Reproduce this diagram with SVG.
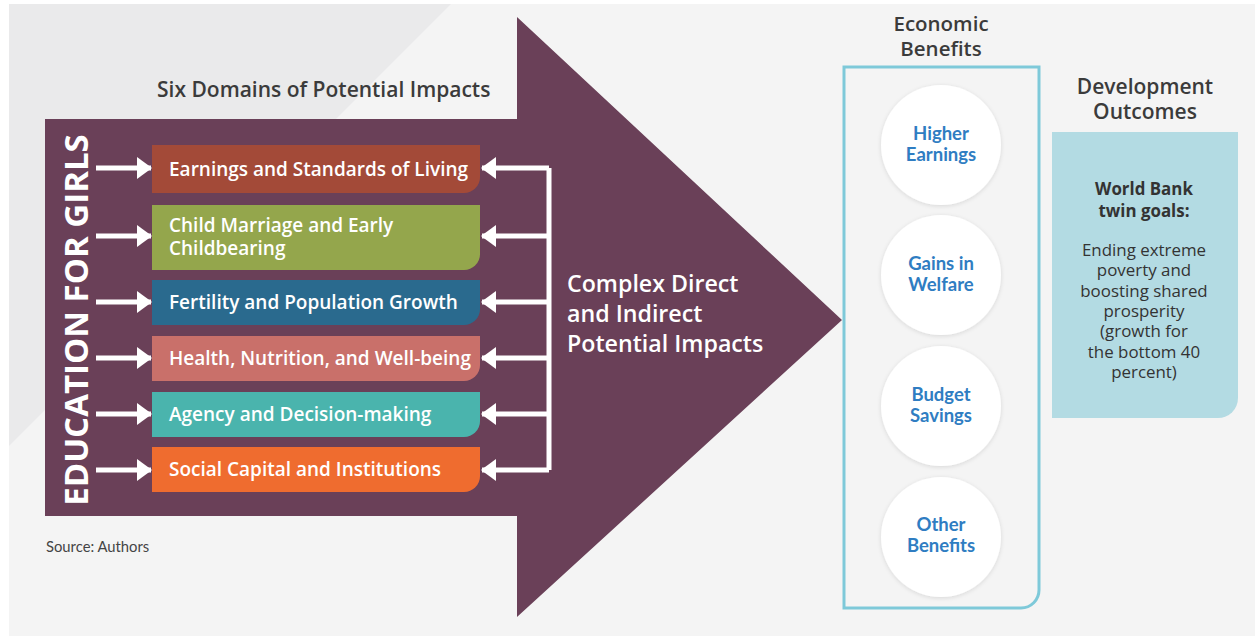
<svg xmlns="http://www.w3.org/2000/svg" width="1255" height="639" viewBox="0 0 1255 639">
<style>
.title{font-family:"Open Sans","Liberation Sans",sans-serif;font-weight:600;fill:#3b3b3b}
.box{font-family:"Open Sans","Liberation Sans",sans-serif;font-weight:600;font-size:19px;fill:#ffffff}
.circ{font-family:Lato,"Liberation Sans",sans-serif;font-weight:700;font-size:18.5px;fill:#2f7dc2;text-anchor:middle}
.dev{font-family:"Open Sans","Liberation Sans",sans-serif;font-size:16.9px;fill:#333333;text-anchor:middle}
.conn{stroke:#ffffff;stroke-width:5;fill:none;stroke-linejoin:round}
</style>
<defs>
<marker id="ah" viewBox="0 0 15 22" refX="14" refY="11" markerWidth="15" markerHeight="22" markerUnits="userSpaceOnUse" orient="auto">
<path d="M0 0 L15 11 L0 22 Z" fill="#ffffff"/>
</marker>
<filter id="sh" x="-20%" y="-20%" width="140%" height="140%">
<feDropShadow dx="0" dy="1" stdDeviation="2" flood-color="#000000" flood-opacity="0.12"/>
</filter>
</defs>
<rect x="0" y="0" width="1255" height="639" fill="#ffffff"/>
<rect x="9" y="4" width="1246" height="632" fill="#f4f4f4"/>
<path d="M9 4 H451 L9 446 Z" fill="#eaeaeb"/>

<g id="big-arrow">
<path d="M45 119 H517 V17 L842 320 L517 617 V516 H45 Z" fill="#6a4058"/>
<text transform="translate(75,320) rotate(-90)" text-anchor="middle" dominant-baseline="central" font-family="Open Sans, Liberation Sans, sans-serif" font-weight="700" font-size="33" fill="#ffffff">EDUCATION FOR GIRLS</text>
<text x="567" y="292" font-family="Open Sans, Liberation Sans, sans-serif" font-weight="600" font-size="23.2" fill="#ffffff">Complex Direct</text>
<text x="567" y="322" font-family="Open Sans, Liberation Sans, sans-serif" font-weight="600" font-size="23.2" fill="#ffffff">and Indirect</text>
<text x="567" y="352" font-family="Open Sans, Liberation Sans, sans-serif" font-weight="600" font-size="23.2" fill="#ffffff">Potential Impacts</text>
</g>

<text class="title" x="157" y="97" font-size="21" font-weight="500">Six Domains of Potential Impacts</text>

<g id="domain-earnings">
<path d="M152 145 H480 V177 A16 16 0 0 1 464 193 H152 Z" fill="#a34a38"/>
<text class="box" x="169" y="176">Earnings and Standards of Living</text>
</g>
<g id="domain-child-marriage">
<path d="M152 205 H480 V254 A16 16 0 0 1 464 270 H152 Z" fill="#94a64c"/>
<text class="box" x="169" y="232">Child Marriage and Early</text>
<text class="box" x="169" y="255">Childbearing</text>
</g>
<g id="domain-fertility">
<path d="M152 280 H480 V309 A16 16 0 0 1 464 325 H152 Z" fill="#2a6a8e"/>
<text class="box" x="169" y="309">Fertility and Population Growth</text>
</g>
<g id="domain-health">
<path d="M152 336 H480 V365 A16 16 0 0 1 464 381 H152 Z" fill="#c9706a"/>
<text class="box" x="169" y="365">Health, Nutrition, and Well-being</text>
</g>
<g id="domain-agency">
<path d="M152 392 H480 V421 A16 16 0 0 1 464 437 H152 Z" fill="#4ab4ad"/>
<text class="box" x="169" y="421">Agency and Decision-making</text>
</g>
<g id="domain-social">
<path d="M152 447 H480 V476 A16 16 0 0 1 464 492 H152 Z" fill="#ef6c2f"/>
<text class="box" x="169" y="476">Social Capital and Institutions</text>
</g>

<g id="connectors">
<line class="conn" x1="96" y1="168" x2="151" y2="168" marker-end="url(#ah)"/>
<line class="conn" x1="96" y1="236" x2="151" y2="236" marker-end="url(#ah)"/>
<line class="conn" x1="96" y1="302" x2="151" y2="302" marker-end="url(#ah)"/>
<line class="conn" x1="96" y1="358" x2="151" y2="358" marker-end="url(#ah)"/>
<line class="conn" x1="96" y1="414" x2="151" y2="414" marker-end="url(#ah)"/>
<line class="conn" x1="96" y1="470" x2="151" y2="470" marker-end="url(#ah)"/>
<path class="conn" d="M549 168 V470"/>
<line class="conn" x1="549" y1="168" x2="482" y2="168" marker-end="url(#ah)"/>
<line class="conn" x1="549" y1="236" x2="482" y2="236" marker-end="url(#ah)"/>
<line class="conn" x1="549" y1="302" x2="482" y2="302" marker-end="url(#ah)"/>
<line class="conn" x1="549" y1="358" x2="482" y2="358" marker-end="url(#ah)"/>
<line class="conn" x1="549" y1="414" x2="482" y2="414" marker-end="url(#ah)"/>
<line class="conn" x1="549" y1="470" x2="482" y2="470" marker-end="url(#ah)"/>
</g>

<g id="economic-benefits">
<text class="title" x="941" y="31" font-size="20.5" text-anchor="middle" font-weight="500">Economic</text>
<text class="title" x="941" y="56" font-size="20.5" text-anchor="middle" font-weight="500">Benefits</text>
<path d="M844 67 H1039 V590 A18 18 0 0 1 1021 608 H844 Z" fill="none" stroke="#7ec9d9" stroke-width="3"/>
</g>
<g id="higher-earnings">
<circle cx="941" cy="145" r="60" fill="#ffffff" filter="url(#sh)"/>
<text class="circ" x="941" y="140">Higher</text>
<text class="circ" x="941" y="161">Earnings</text>
</g>
<g id="gains-in-welfare">
<circle cx="941" cy="275" r="60" fill="#ffffff" filter="url(#sh)"/>
<text class="circ" x="941" y="270">Gains in</text>
<text class="circ" x="941" y="291">Welfare</text>
</g>
<g id="budget-savings">
<circle cx="941" cy="406" r="60" fill="#ffffff" filter="url(#sh)"/>
<text class="circ" x="941" y="401">Budget</text>
<text class="circ" x="941" y="422">Savings</text>
</g>
<g id="other-benefits">
<circle cx="941" cy="537" r="60" fill="#ffffff" filter="url(#sh)"/>
<text class="circ" x="941" y="531">Other</text>
<text class="circ" x="941" y="552">Benefits</text>
</g>

<g id="development-outcomes">
<text class="title" x="1145" y="94" font-size="21" text-anchor="middle" font-weight="500">Development</text>
<text class="title" x="1145" y="119" font-size="21" text-anchor="middle" font-weight="500">Outcomes</text>
<path d="M1052 132 H1238 V398 A20 20 0 0 1 1218 418 H1052 Z" fill="#b3dbe3"/>
<text class="dev" x="1144" y="195" font-weight="700" font-size="16.5">World Bank</text>
<text class="dev" x="1144" y="217" font-weight="700" font-size="16.5">twin goals:</text>
<text class="dev" x="1144" y="256">Ending extreme</text>
<text class="dev" x="1144" y="276.3">poverty and</text>
<text class="dev" x="1144" y="296.6">boosting shared</text>
<text class="dev" x="1144" y="316.9">prosperity</text>
<text class="dev" x="1144" y="337.2">(growth for</text>
<text class="dev" x="1144" y="357.5">the bottom 40</text>
<text class="dev" x="1144" y="377.8">percent)</text>
</g>

<text x="46" y="552" font-family="Lato, Liberation Sans, sans-serif" font-size="14.8" fill="#444444">Source: Authors</text>
</svg>
